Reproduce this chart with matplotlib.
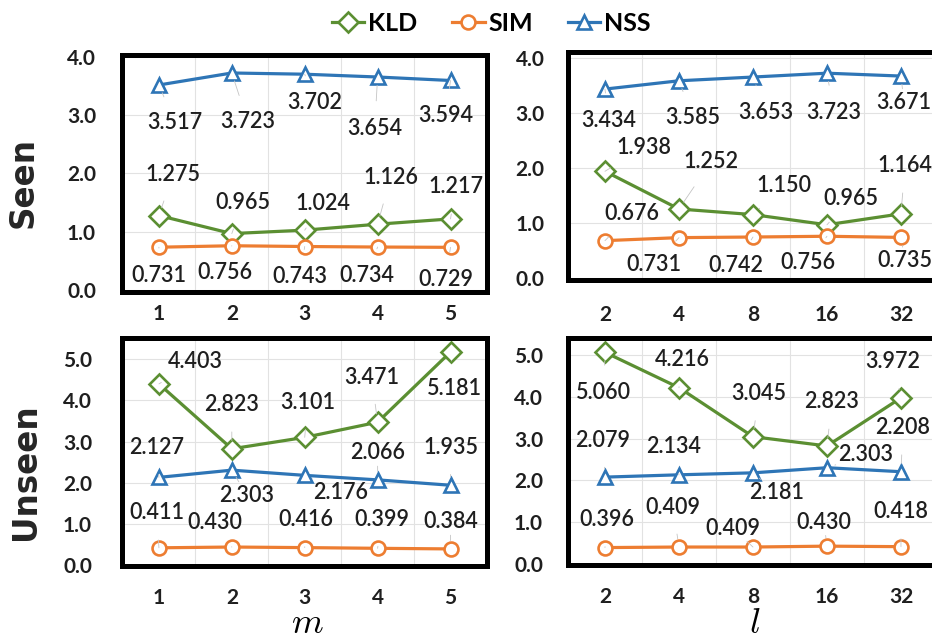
import matplotlib
matplotlib.use('Agg')
import matplotlib.pyplot as plt
import numpy as np

plt.rcParams['font.family'] = ['Lato', 'DejaVu Sans']
plt.rcParams['mathtext.fontset'] = 'cm'

# ---- data ----
m_ticks = ['1', '2', '3', '4', '5']
l_ticks = ['2', '4', '8', '16', '32']

seen_m_kld = [1.275, 0.965, 1.024, 1.126, 1.217]
seen_m_sim = [0.731, 0.756, 0.743, 0.734, 0.729]
seen_m_nss = [3.517, 3.723, 3.702, 3.654, 3.594]

seen_l_kld = [1.938, 1.252, 1.150, 0.965, 1.164]
seen_l_sim = [0.676, 0.731, 0.742, 0.756, 0.735]
seen_l_nss = [3.434, 3.585, 3.653, 3.723, 3.671]

unseen_m_kld = [4.403, 2.823, 3.101, 3.471, 5.181]
unseen_m_sim = [0.411, 0.430, 0.416, 0.399, 0.384]
unseen_m_nss = [2.127, 2.303, 2.176, 2.066, 1.935]

unseen_l_kld = [5.060, 4.216, 3.045, 2.823, 3.972]
unseen_l_sim = [0.396, 0.409, 0.409, 0.430, 0.418]
unseen_l_nss = [2.079, 2.134, 2.181, 2.303, 2.208]

series_names = ['KLD', 'SIM', 'NSS']
colors = ['#5b8f32', '#ed7d31', '#2e75b6']
markers = ['D', 'o', '^']

# label offsets in pixels (dx right, dy down), one list per series: KLD, SIM, NSS
offs_tl = [[(14, -41), (11, -31), (18, -27), (13, -47), (5, -32)],
           [(0, 28), (-7, 27), (-5, 30), (-11, 28), (-5, 32)],
           [(16, 38), (16, 49), (10, 28), (-3, 51), (-5, 35)]]
offs_tr = [[(39, -24), (32, -47), (31, -29), (24, -26), (4, -48)],
           [(27, -27), (-25, 27), (-17, 28), (-19, 26), (4, 23)],
           [(4, 31), (14, 37), (13, 35), (7, 39), (3, 26)]]
offs_bl = [[(36, -22), (0, -44), (3, -35), (-6, -45), (4, 36)],
           [(-2, -35), (-17, -25), (1, -28), (4, -29), (0, -27)],
           [(-2, -30), (15, 25), (36, 17), (0, -27), (0, -38)]]
offs_br = [[(-1, 40), (3, -28), (6, -43), (5, -44), (-8, -36)],
           [(2, -28), (-6, -40), (-20, -19), (-3, -24), (0, -35)],
           [(-2, -37), (-5, -28), (24, 20), (39, -13), (2, -44)]]

panels = [
    # rect, ticks, data, ylim, yticks, ypad, xpad, offsets
    ([0.1314, 0.5445, 0.3911, 0.3703], m_ticks, [seen_m_kld, seen_m_sim, seen_m_nss],
     (-0.03, 4.04), [0, 1, 2, 3, 4], 19, 9, offs_tl),
    ([0.6094, 0.5625, 0.3970, 0.3555], l_ticks, [seen_l_kld, seen_l_sim, seen_l_nss],
     (-0.04, 4.10), [0, 1, 2, 3, 4], 17, 18, offs_tr),
    ([0.1314, 0.1164, 0.3911, 0.3547], m_ticks, [unseen_m_kld, unseen_m_sim, unseen_m_nss],
     (-0.02, 5.51), [0, 1, 2, 3, 4, 5], 22, 16, offs_bl),
    ([0.6094, 0.1172, 0.3970, 0.3539], l_ticks, [unseen_l_kld, unseen_l_sim, unseen_l_nss],
     (-0.02, 5.39), [0, 1, 2, 3, 4, 5], 18, 16, offs_br),
]

fig = plt.figure(figsize=(9.32, 6.4), dpi=100)
handles = []

for rect, ticks, data, ylim, yticks, ypad, xpad, offs in panels:
    ax = fig.add_axes(rect)
    x = np.arange(len(ticks))
    lines = []
    for k, vals in enumerate(data):
        ln, = ax.plot(x, vals, '-', color=colors[k], lw=2.3, marker=markers[k],
                      ms=10, mfc='white', mec=colors[k], mew=1.9, zorder=3 + k,
                      label=series_names[k])
        lines.append(ln)
        for i, v in enumerate(vals):
            dx, dy = offs[k][i]
            ax.annotate('%.3f' % v, (x[i], v), xytext=(dx, -dy),
                        textcoords='offset pixels', ha='center', va='center',
                        fontsize=15.5, fontweight='semibold', color='#1f1f1f',
                        zorder=10,
                        arrowprops=dict(arrowstyle='-', color='#c4c4c4', lw=0.6,
                                        shrinkA=10, shrinkB=6))
    if not handles:
        handles = lines

    ax.set_xlim(-0.5, 4.5)
    ax.set_ylim(*ylim)
    ax.set_xticks(x)
    ax.set_xticklabels(ticks)
    ax.set_yticks(yticks)
    ax.set_yticklabels(['%.1f' % t for t in yticks])
    ax.set_xticks(np.arange(0.5, 4.5, 1), minor=True)
    ax.grid(True, which='minor', axis='x', color='#e2e2e2', lw=0.8)
    ax.grid(True, which='major', axis='y', color='#e2e2e2', lw=0.8)
    ax.tick_params(axis='both', which='both', length=0)
    ax.tick_params(axis='y', pad=ypad, labelsize=15)
    ax.tick_params(axis='x', pad=xpad, labelsize=15)
    for lab in ax.get_xticklabels() + ax.get_yticklabels():
        lab.set_fontweight('bold')
        lab.set_color('#1f1f1f')
    for sp in ax.spines.values():
        sp.set_linewidth(3.6)
        sp.set_color('black')
        sp.set_zorder(20)
    ax.set_axisbelow(True)

# row labels
fig.text(23 / 932, 1 - 183 / 640, 'Seen', rotation=90, ha='center', va='center',
         fontsize=23.5, fontweight='bold', family='DejaVu Sans', color='#262626')
fig.text(25 / 932, 1 - 472 / 640, 'Unseen', rotation=90, ha='center', va='center',
         fontsize=23.5, fontweight='bold', family='DejaVu Sans', color='#262626')

# x axis names
fig.text(307 / 932, 1 / 640, r'$m$', ha='center', va='bottom', fontsize=26)
fig.text(755 / 932, 1 / 640, r'$l$', ha='center', va='bottom', fontsize=26)

fig.legend(handles, series_names, loc='center', bbox_to_anchor=(0.527, 0.964),
           ncol=3, frameon=False, handlelength=1.3, handletextpad=0.15,
           columnspacing=1.4, prop={'family': 'Lato', 'weight': 'bold', 'size': 18})

fig.savefig('out.png', dpi=100)
